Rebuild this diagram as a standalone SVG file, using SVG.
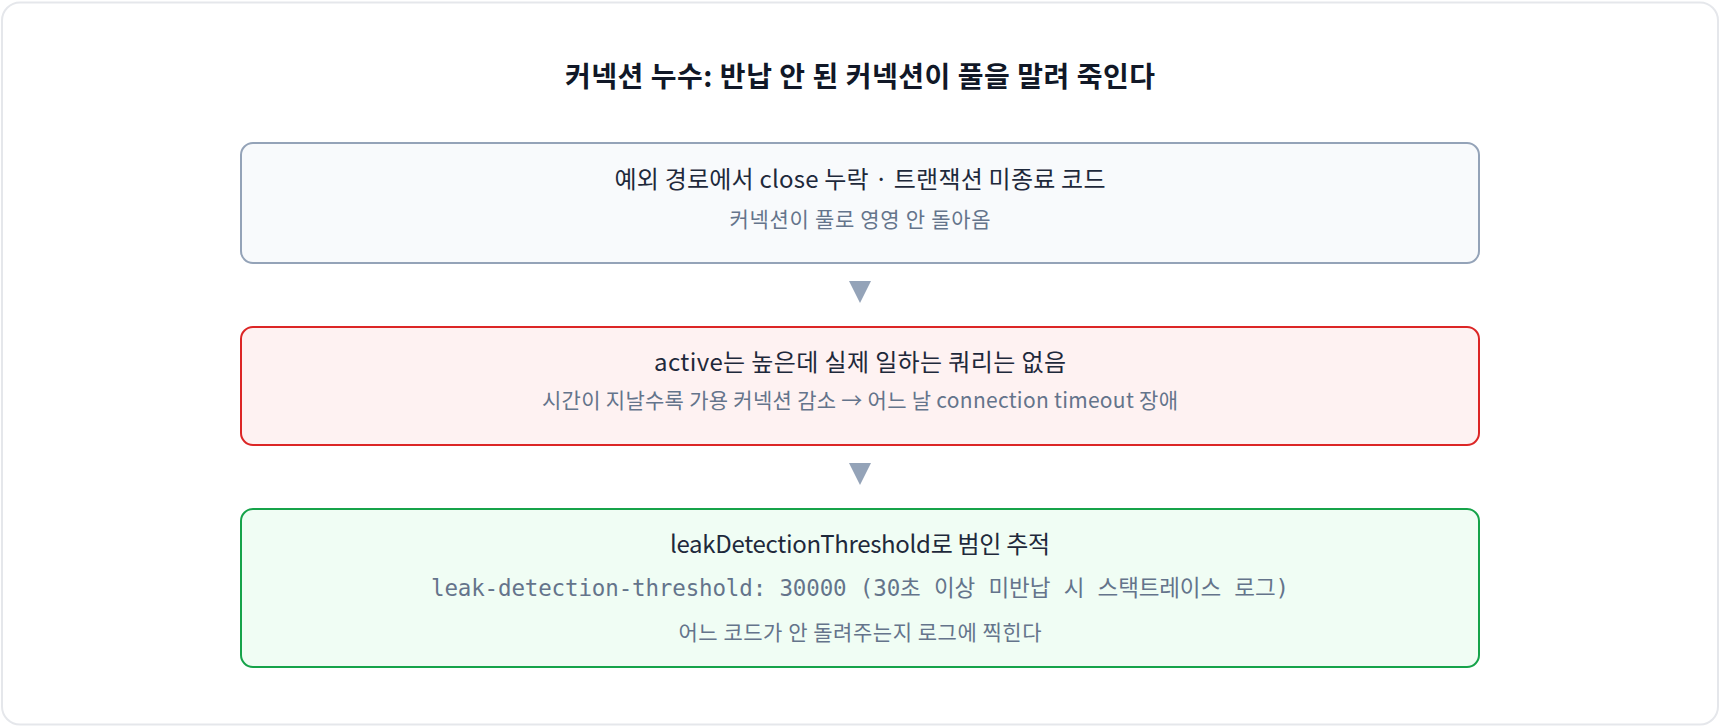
<svg xmlns="http://www.w3.org/2000/svg" width="1720" height="728" viewBox="0 0 1720 728">
<style>
.card{fill:#ffffff;stroke:#e5e7eb;stroke-width:2}
.box{stroke-width:2}
.gray{fill:#f8fafc;stroke:#94a3b8}
.red{fill:#fef2f2;stroke:#dc2626}
.green{fill:#f0fdf4;stroke:#16a34a}
.title{font-family:"Noto Sans CJK KR","Noto Sans",sans-serif;font-size:28px;font-weight:700;fill:#111827;text-anchor:middle}
.h{font-family:"Noto Sans CJK KR","Noto Sans",sans-serif;font-size:24px;fill:#1e293b;text-anchor:middle}
.s{font-family:"Noto Sans CJK KR","Noto Sans",sans-serif;font-size:21px;fill:#64748b;text-anchor:middle}
.m{font-family:"DejaVu Sans Mono","Liberation Mono","Noto Sans CJK KR",monospace;font-size:22.5px;fill:#64748b;text-anchor:middle}
.arrow{fill:#94a3b8}
</style>
<rect class="card" x="2" y="2.5" width="1716" height="722" rx="18"/>
<text class="title" x="860" y="87" textLength="590" lengthAdjust="spacing">커넥션 누수: 반납 안 된 커넥션이 풀을 말려 죽인다</text>
<g id="connectors">
<polygon class="arrow" points="849,281 871,281 860,303"/>
<polygon class="arrow" points="849,463 871,463 860,485"/>
</g>
<g id="node-cause">
<rect class="box gray" x="241" y="143" width="1238" height="120" rx="12"/>
<text class="h" x="860" y="188" textLength="491" lengthAdjust="spacing">예외 경로에서 close 누락 · 트랜잭션 미종료 코드</text>
<text class="s" x="860" y="227" textLength="261" lengthAdjust="spacing">커넥션이 풀로 영영 안 돌아옴</text>
</g>
<g id="node-symptom">
<rect class="box red" x="241" y="327" width="1238" height="118" rx="12"/>
<text class="h" x="860" y="371" textLength="412" lengthAdjust="spacing">active는 높은데 실제 일하는 쿼리는 없음</text>
<text class="s" x="860" y="408" textLength="636" lengthAdjust="spacing">시간이 지날수록 가용 커넥션 감소 → 어느 날 connection timeout 장애</text>
</g>
<g id="node-fix">
<rect class="box green" x="241" y="509" width="1238" height="158" rx="12"/>
<text class="h" x="860" y="553" textLength="380" lengthAdjust="spacing">leakDetectionThreshold로 범인 추적</text>
<text class="m" x="860" y="596" textLength="858" lengthAdjust="spacing">leak-detection-threshold: 30000 (30초 이상 미반납 시 스택트레이스 로그)</text>
<text class="s" x="860" y="640" textLength="363" lengthAdjust="spacing">어느 코드가 안 돌려주는지 로그에 찍힌다</text>
</g>
</svg>
